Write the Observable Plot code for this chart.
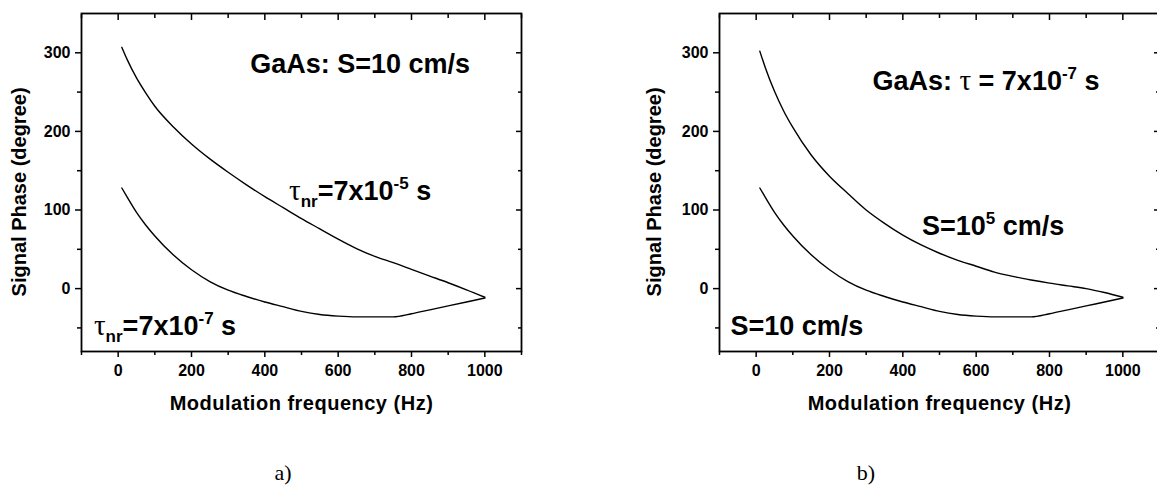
<!DOCTYPE html>
<html><head><meta charset="utf-8">
<script src="https://cdn.jsdelivr.net/npm/d3@7"></script>
<script src="https://cdn.jsdelivr.net/npm/@observablehq/plot@0.6"></script>
<style>
html,body{margin:0;padding:0;background:#fff;overflow:hidden;}
#wrap{position:relative;width:1157px;height:486px;overflow:hidden;background:#fff;}
.panel{position:absolute;top:0;height:420px;}
.panel svg{max-width:none !important;}
.cap{position:absolute;font-family:"Liberation Serif","Times New Roman",serif;font-size:22px;color:#000;transform:translate(-50%,-50%);white-space:nowrap;}
</style></head>
<body>
<div id="wrap">
  <div id="pa" class="panel" style="left:0px;width:578px"></div>
  <div id="pb" class="panel" style="left:579px;width:580px"></div>
  <div class="cap" style="left:283px;top:473px">a)</div>
  <div class="cap" style="left:866px;top:473px">b)</div>
</div>
<script>
// ---- data ----
const freq = [10,25,50,75,100,150,200,250,300,350,400,450,500,550,600,650,700,750,800,850,900,950,1000];
// panel a) GaAs, S = 10 cm/s
const phaseA_tau7e5 = [307,291,268,249,232,206,184,165,148,132,117,103,89,76,63,51,41,33,24.5,16,7.5,-1.5,-11];
const phaseA_tau7e7 = [128,116,97,81,67,43,24,9,-2,-10,-17,-23,-29,-33,-35,-36,-36,-36,-32,-27,-22,-17,-12];
// panel b) GaAs, tau = 7x10^-7 s
const phaseB_S1e5 = [302,281,251,226,205,170,143,121,100,83,68,55.5,45,36,28.5,21,15.5,11,7,3.5,0,-5,-11];
const phaseB_S10  = [128,116,97,81,67,43,24,9,-2,-10,-17,-23,-29,-33,-35,-36,-36,-36,-32,-27,-22,-17,-12];

const xMajor = [0,200,400,600,800,1000];
const xMinor = [-100,100,300,500,700,900,1100];
const yMajor = [0,100,200,300];
const yMinor = [-50,50,150,250];

const xTitle = "Modulation frequency (Hz)";
const yTitle = "Signal Phase (degree)";

// annotations (text, anchor frequency, anchor phase)
const annA_text = ["GaAs: S=10 cm/s", "τ_{nr}=7x10^{-5} s", "τ_{nr}=7x10^{-7} s"];
const annA_x = [360, 466, -66];
const annA_y = [285, 124, -47.5];
const annB_text = ["GaAs: τ = 7x10^{-7} s", "S=10^{5} cm/s", "S=10 cm/s"];
const annB_x = [317, 452, -70];
const annB_y = [264, 79.5, -47.5];

const FONT = "'Liberation Sans', Arial, Helvetica, sans-serif";

function series(ys) { return freq.map((f, i) => ({f, p: ys[i]})); }
function ann(texts, xs, ys) { return texts.map((t, i) => ({t, x: xs[i], y: ys[i]})); }

function panel({upper, lower, notes, width, marginLeft, marginRight, yTitleDx}) {
  const blank = () => "";
  return Plot.plot({
    width, height: 420,
    marginLeft, marginRight, marginTop: 13, marginBottom: 69,
    x: {domain: [-100, 1100]},
    y: {domain: [-80, 350]},
    style: {fontFamily: FONT, fontWeight: "bold", fontSize: "16px", color: "#000", background: "#fff", maxWidth: "none", overflow: "visible"},
    marks: [
      Plot.axisX(xMajor, {anchor: "bottom", tickSize: 6, tickPadding: 7, strokeWidth: 1.5, label: null, fontSize: 16, fontWeight: "bold", tickFormat: d => String(d)}),
      Plot.axisX(xMinor, {anchor: "bottom", tickSize: 4, strokeWidth: 1.5, label: null, tickFormat: blank}),
      Plot.axisX(xMajor, {anchor: "top", tickSize: -6, strokeWidth: 1.5, label: null, tickFormat: blank}),
      Plot.axisX(xMinor, {anchor: "top", tickSize: -4, strokeWidth: 1.5, label: null, tickFormat: blank}),
      Plot.axisY(yMajor, {anchor: "left", tickSize: 6, tickPadding: 5, strokeWidth: 1.5, label: null, fontSize: 16, fontWeight: "bold", tickFormat: d => String(d)}),
      Plot.axisY(yMinor, {anchor: "left", tickSize: 4, strokeWidth: 1.5, label: null, tickFormat: blank}),
      Plot.axisY(yMajor, {anchor: "right", tickSize: -6, strokeWidth: 1.5, label: null, tickFormat: blank}),
      Plot.axisY(yMinor, {anchor: "right", tickSize: -4, strokeWidth: 1.5, label: null, tickFormat: blank}),
      Plot.frame({stroke: "#000", strokeWidth: 1.8}),
      Plot.line(series(upper), {x: "f", y: "p", stroke: "#000", strokeWidth: 1.4, curve: "monotone-x"}),
      Plot.line(series(lower), {x: "f", y: "p", stroke: "#000", strokeWidth: 1.4, curve: "monotone-x"}),
      Plot.text([{t: xTitle}], {x: () => 500, y: () => -80, dy: 52, text: "t", fontSize: 20, fontWeight: "bold", fill: "#000"}),
      Plot.text([{t: yTitle}], {x: () => -100, y: () => 123, dx: yTitleDx, text: "t", rotate: -90, fontSize: 20, fontWeight: "bold", fill: "#000"}),
      Plot.text(notes, {x: "x", y: "y", text: "t", textAnchor: "start", fontSize: 27, fontWeight: "bold", fill: "#000"})
    ]
  });
}

function richText(svg) {
  d3.select(svg).selectAll("text").each(function() {
    const src = this.textContent;
    const sel = d3.select(this);
    if (src === xTitle) { sel.style("letter-spacing", "0.5px"); return; }
    if (!/[_^]\{|τ/.test(src)) return;
    sel.text(null).style("white-space", "pre");
    const re = /([_^])\{([^}]*)\}|([^_^]+)/g;
    let m, cur = 0;
    while ((m = re.exec(src))) {
      const kind = m[1] === "_" ? "sub" : m[1] === "^" ? "sup" : "base";
      const str = m[2] !== undefined ? m[2] : m[3];
      const target = kind === "sub" ? 7 : kind === "sup" ? -11 : 0;
      const pieces = str.split(/(τ)/).filter(s => s.length);
      for (const p of pieces) {
        const ts = sel.append("tspan").text(p);
        if (target !== cur) { ts.attr("dy", target - cur); cur = target; }
        if (kind !== "base") ts.attr("font-size", 17);
        if (p === "τ") ts.attr("font-family", "'Liberation Serif', 'Times New Roman', serif").attr("font-weight", "normal").attr("font-size", 29);
      }
    }
  });
}

const a = panel({upper: phaseA_tau7e5, lower: phaseA_tau7e7, notes: ann(annA_text, annA_x, annA_y), width: 578, marginLeft: 81, marginRight: 57, yTitleDx: -62});
const b = panel({upper: phaseB_S1e5, lower: phaseB_S10, notes: ann(annB_text, annB_x, annB_y), width: 580, marginLeft: 140, marginRight: 0, yTitleDx: -65});
richText(a); richText(b);
document.getElementById("pa").appendChild(a);
document.getElementById("pb").appendChild(b);
</script>
</body></html>
